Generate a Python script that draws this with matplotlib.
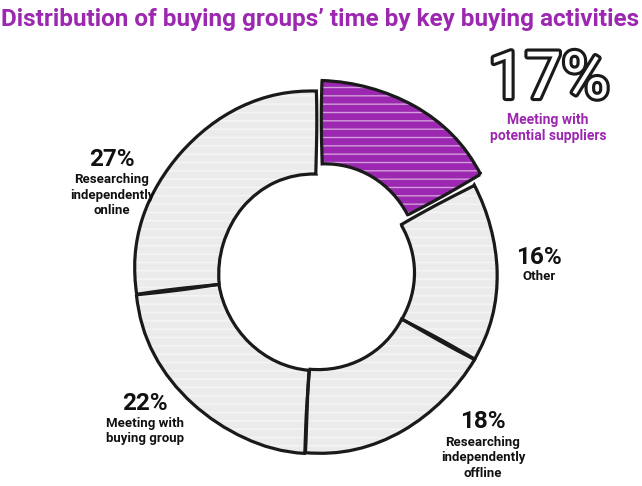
import matplotlib
matplotlib.use("Agg")
import matplotlib.pyplot as plt
import matplotlib.patheffects as pe

plt.rcParams['font.family'] = ['Roboto', 'DejaVu Sans']
plt.rcParams['hatch.color'] = (1, 1, 1, 0.55)
plt.rcParams['hatch.linewidth'] = 1.0

# data
labels = ["Meeting with\npotential suppliers", "Other",
          "Researching\nindependently\noffline", "Meeting with\nbuying group",
          "Researching\nindependently\nonline"]
shares = [17, 16, 18, 22, 27]
colors = ["#9c27b0", "#ebebeb", "#ebebeb", "#ebebeb", "#ebebeb"]
explode = [12, 0, 0, 0, 0]

purple = "#9c27b0"

fig = plt.figure(figsize=(6.42, 4.86), dpi=100)
ax = fig.add_axes([0, 0, 1, 1])

cx, cy, R = 316, 486 - 272, 181
ring = dict(startangle=90, counterclock=False, center=(cx, cy), radius=R)

# fill, then a light scribble texture, then sketchy outlines on top
ax.pie(shares, colors=colors, explode=explode,
       wedgeprops=dict(width=R * 0.46, linewidth=0), **ring)
ax.pie(shares, colors=[(0, 0, 0, 0)] * 5, explode=explode,
       wedgeprops=dict(width=R * 0.46, linewidth=0, hatch="--"), **ring)
edges, _ = ax.pie(shares, colors=[(0, 0, 0, 0)] * 5, explode=explode,
                  wedgeprops=dict(width=R * 0.46, edgecolor="#1a1a1a", linewidth=2.3), **ring)
for w in edges:
    w.set_sketch_params(scale=0.8, length=200, randomness=2)

ax.set_xlim(0, 642)
ax.set_ylim(0, 486)
ax.set_aspect("equal")
ax.axis("off")

ax.text(320, 486 - 20, "Distribution of buying groups\u2019 time by key buying activities",
        ha="center", va="center", fontsize=17.5, fontweight="bold", color=purple)

# 17% outlined
ax.text(549, 486 - 80, "17%", ha="center", va="center", fontsize=47,
        color="white",
        path_effects=[pe.withStroke(linewidth=4.5, foreground="#1a1a1a")])
ax.text(548, 486 - 128, labels[0], ha="center", va="center", fontsize=10,
        fontweight="bold", color=purple, linespacing=1.15)

# other labels: (x, y of pct, y of text)
pos = [(539, 258, 277), (483, 422, 458), (145, 403, 431), (112, 159, 195)]
for (x, yp, yt), lab, s in zip(pos, labels[1:], shares[1:]):
    ax.text(x, 486 - yp, f"{s}%", ha="center", va="center", fontsize=17.5,
            fontweight="bold", color="#111111")
    ax.text(x, 486 - yt, lab, ha="center", va="center", fontsize=9.5,
            fontweight="bold", color="#111111", linespacing=1.25)

fig.savefig("out.png", dpi=100)
